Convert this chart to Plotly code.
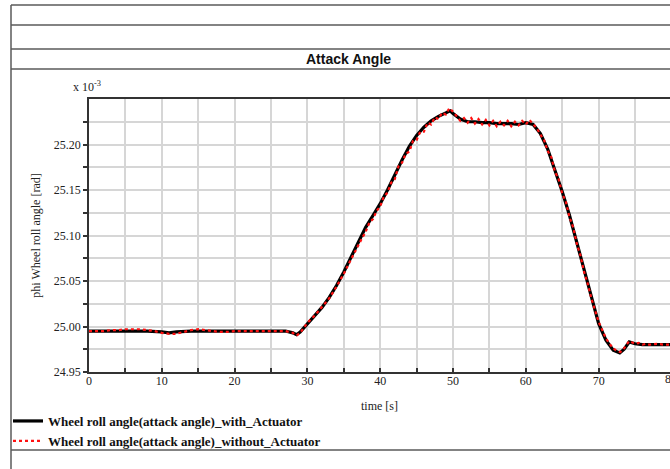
import plotly.graph_objects as go

# ---------------- data (values in units of 1e-3 rad) ----------------
t_with = [0, 2, 4, 6, 8, 10, 11, 12, 14, 16, 18, 20, 22, 24, 26, 27, 28, 28.5, 29,
          30, 31, 32, 33, 34, 35, 36, 37, 38, 39, 40, 41, 42, 43, 44, 45, 46, 47, 48,
          49, 49.6, 50, 51, 52, 53, 54, 55, 56, 57, 58, 59, 60, 61, 62, 63, 64, 65,
          66, 67, 68, 69, 70, 71, 72, 72.9, 73.5, 74.2, 75, 76, 77, 78, 79, 80]
v_with = [24.995, 24.995, 24.995, 24.995, 24.995, 24.994, 24.993, 24.994, 24.995,
          24.995, 24.995, 24.995, 24.995, 24.995, 24.995, 24.995, 24.993, 24.991,
          24.994, 25.003, 25.012, 25.021, 25.032, 25.045, 25.060, 25.076, 25.093,
          25.109, 25.122, 25.135, 25.150, 25.167, 25.183, 25.198, 25.210, 25.219,
          25.226, 25.231, 25.235, 25.237, 25.234, 25.228, 25.225, 25.225, 25.224,
          25.224, 25.223, 25.223, 25.223, 25.222, 25.224, 25.222, 25.212, 25.195,
          25.172, 25.148, 25.122, 25.092, 25.060, 25.030, 25.003, 24.985, 24.974,
          24.971, 24.975, 24.983, 24.981, 24.980, 24.980, 24.980, 24.980, 24.980]

t_without = [0, 1, 2, 3, 4, 5, 6, 7, 8, 9, 10, 11, 12, 13, 14, 15, 16, 17, 18, 19,
             20, 21, 22, 23, 24, 25, 26, 27, 28, 28.5, 29, 30, 31, 32, 33, 34, 35, 36,
             37, 37.5, 38, 38.5, 39, 39.5, 40, 40.5, 41, 41.5, 42, 42.5, 43, 43.5,
             44, 44.5, 45, 45.5, 46, 46.5, 47, 47.5, 48, 48.5, 49, 49.5, 50, 50.5,
             51, 51.5, 52, 52.5, 53, 53.5, 54, 54.5, 55, 55.5, 56, 56.5, 57, 57.5,
             58, 58.5, 59, 59.5, 60, 60.5, 61, 61.5, 62, 62.5, 63, 63.5, 64, 64.5,
             65, 65.5, 66, 66.5, 67, 67.5, 68, 68.5, 69, 69.5, 70, 70.5, 71, 71.5,
             72, 72.5, 73, 73.5, 74.2, 75, 75.5, 76, 76.5, 77, 78, 79, 80]
v_without = [24.995, 24.995, 24.995, 24.996, 24.996, 24.997, 24.997, 24.997, 24.996,
             24.995, 24.993, 24.992, 24.992, 24.994, 24.996, 24.997, 24.996, 24.995,
             24.994, 24.994, 24.995, 24.995, 24.995, 24.995, 24.995, 24.995, 24.995,
             24.995, 24.993, 24.990, 24.993, 25.004, 25.012, 25.021, 25.031, 25.044,
             25.058, 25.074, 25.090, 25.097, 25.104, 25.114, 25.118, 25.127, 25.132,
             25.143, 25.147, 25.158, 25.162, 25.176, 25.180, 25.190, 25.192, 25.204,
             25.205, 25.214, 25.214, 25.224, 25.222, 25.230, 25.228, 25.235, 25.233,
             25.240, 25.236, 25.231, 25.226, 25.229, 25.224, 25.229, 25.223, 25.228,
             25.222, 25.227, 25.221, 25.226, 25.220, 25.225, 25.221, 25.226, 25.220,
             25.225, 25.221, 25.226, 25.222, 25.227, 25.222, 25.218, 25.211, 25.205,
             25.193, 25.186, 25.170, 25.162, 25.146, 25.137, 25.120, 25.109, 25.091,
             25.078, 25.060, 25.047, 25.031, 25.018, 25.005, 24.996, 24.987, 24.981,
             24.976, 24.973, 24.972, 24.976, 24.984, 24.981, 24.982, 24.980, 24.981,
             24.980, 24.981, 24.980, 24.980]

x_tickvals = [0, 5, 10, 15, 20, 25, 30, 35, 40, 45, 50, 55, 60, 65, 70, 75]
x_ticktext = ["0", "", "10", "", "20", "", "30", "", "40", "", "50", "", "60", "", "70", ""]
y_tickvals = [24.95, 24.975, 25.00, 25.025, 25.05, 25.075, 25.10, 25.125, 25.15,
              25.175, 25.20, 25.225]
y_ticktext = ["24.95", "", "25.00", "", "25.05", "", "25.10", "", "25.15", "",
              "25.20", ""]

name_with = "Wheel roll angle(attack angle)_with_Actuator"
name_without = "Wheel roll angle(attack angle)_without_Actuator"

# ---------------- layout geometry ----------------
W, H = 670, 469
ML, MR, MT, MB = 89, 0, 99, 97
PW = W - ML - MR
PH = H - MT - MB


def px(x):
    return (x - ML) / PW


def py(y):
    return (H - MB - y) / PH


SERIF = "Liberation Serif"
SANS = "Liberation Sans"
FRAME = "#5a5a5a"

fig = go.Figure()
fig.add_trace(go.Scatter(x=t_with, y=v_with, mode="lines", name=name_with,
                         line=dict(color="#000000", width=3.2)))
fig.add_trace(go.Scatter(x=t_without, y=v_without, mode="lines", name=name_without,
                         line=dict(color="#ff1010", width=2.2, dash="dot")))

shapes = []
for yy in [5, 25, 49, 69, 450]:
    shapes.append(dict(type="line", xref="paper", yref="paper",
                       x0=px(11), x1=px(672), y0=py(yy), y1=py(yy),
                       line=dict(color=FRAME, width=1.5)))
shapes.append(dict(type="line", xref="paper", yref="paper",
                   x0=px(11), x1=px(11), y0=py(5), y1=py(472),
                   line=dict(color=FRAME, width=1.5)))

annotations = [
    dict(text="<b>Attack Angle</b>", xref="paper", yref="paper",
         x=px(348), y=py(59), showarrow=False, xanchor="center", yanchor="middle",
         font=dict(family=SANS, size=14, color="#111")),
    dict(text="x 10<sup>-3</sup>", xref="paper", yref="paper",
         x=px(71), y=py(87), showarrow=False, xanchor="left", yanchor="middle",
         font=dict(family=SERIF, size=12, color="#222")),
    dict(text="80", xref="paper", yref="paper",
         x=px(671), y=py(370), showarrow=False, xanchor="center", yanchor="top",
         font=dict(family=SERIF, size=12, color="#222")),
]

fig.update_layout(
    width=W, height=H,
    margin=dict(l=ML, r=MR, t=MT, b=MB, pad=0),
    paper_bgcolor="white", plot_bgcolor="white",
    showlegend=True,
    legend=dict(x=px(8), y=py(406), xanchor="left", yanchor="top",
                bgcolor="rgba(0,0,0,0)", borderwidth=0,
                font=dict(family=SERIF, size=13, color="#111", weight="bold"),
                tracegroupgap=0),
    shapes=shapes,
    annotations=annotations,
    xaxis=dict(range=[0, 79.8], tickvals=x_tickvals, ticktext=x_ticktext,
               showgrid=True, gridcolor="#d6d6d6", gridwidth=1.5,
               showline=True, linecolor="#333", linewidth=1.5, mirror=True,
               ticks="inside", ticklen=4, tickcolor="#333", tickwidth=1.5,
               ticklabelstandoff=-3,
               tickfont=dict(family=SERIF, size=12, color="#222"),
               zeroline=False, automargin=False,
               title=dict(text="time [s]", standoff=14,
                          font=dict(family=SERIF, size=12, color="#222"))),
    yaxis=dict(range=[24.95, 25.25], tickvals=y_tickvals, ticktext=y_ticktext,
               showgrid=True, gridcolor="#d6d6d6", gridwidth=1.5,
               showline=True, linecolor="#333", linewidth=1.5,
               ticks="outside", ticklen=4, tickcolor="#333", tickwidth=1.5,
               tickfont=dict(family=SERIF, size=12, color="#222"),
               zeroline=False, automargin=False,
               title=dict(text="phi Wheel roll angle [rad]", standoff=11,
                          font=dict(family=SERIF, size=12, color="#222"))),
)

fig.write_html("out.html", config={"displayModeBar": False},
               post_script="document.body.style.margin='0';")
